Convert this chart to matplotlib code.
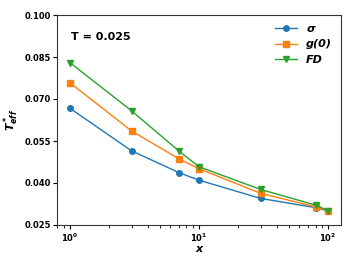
import matplotlib
matplotlib.use("Agg")
import matplotlib.pyplot as plt

plt.rcParams['mathtext.fontset'] = 'custom'
plt.rcParams['mathtext.it'] = 'DejaVu Sans:italic:bold'
plt.rcParams['mathtext.rm'] = 'DejaVu Sans:bold'

x = [1, 3, 7, 10, 30, 80, 100]
sigma = [0.0667, 0.0515, 0.0437, 0.0410, 0.0345, 0.0312, 0.0300]
g0 = [0.0758, 0.0586, 0.0486, 0.0451, 0.0363, 0.0315, 0.0300]
fd = [0.0830, 0.0658, 0.0514, 0.0458, 0.0377, 0.0321, 0.0301]
yticks = [0.025, 0.040, 0.055, 0.070, 0.085, 0.100]

fig = plt.figure(figsize=(3.52, 2.64), dpi=100)
ax = fig.add_axes([57/352, 1 - 225/264, 284/352, 210/264])

ax.plot(x, sigma, marker='o', ms=4, lw=1, color='tab:blue', label=r'$\sigma$')
ax.plot(x, g0, marker='s', ms=4, lw=1, color='tab:orange', label='g(0)')
ax.plot(x, fd, marker='v', ms=4, lw=1, color='tab:green', label='FD')

ax.set_xscale('log')
ax.set_ylim(0.025, 0.100)
ax.set_yticks(yticks)
ax.set_yticklabels(['%.3f' % v for v in yticks])
ax.tick_params(labelsize=6, length=3, width=0.8, pad=1.5)
for lab in ax.get_xticklabels() + ax.get_yticklabels():
    lab.set_fontweight('bold')
for s in ax.spines.values():
    s.set_color('#333333')

ax.set_xlabel('x', fontsize=8, fontweight='bold', style='italic', labelpad=0)
ax.set_ylabel(r'$T^*_{eff}$', fontsize=8, labelpad=2)
ax.text(0.05, 0.88, 'T = 0.025', transform=ax.transAxes, fontsize=8, fontweight='bold')

leg = ax.legend(loc='upper right', frameon=False,
                prop={'size': 8, 'weight': 'bold', 'style': 'italic'},
                handlelength=2.0, labelspacing=0.5, borderaxespad=0.4)

fig.savefig('out.png', dpi=100)
